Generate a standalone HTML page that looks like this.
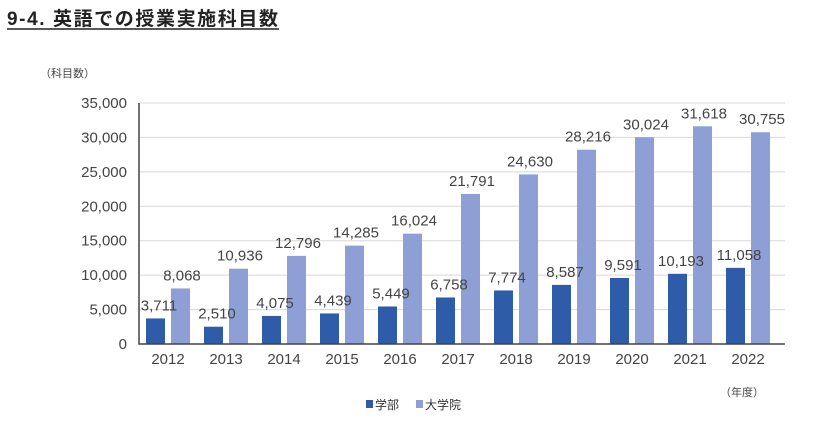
<!DOCTYPE html>
<html><head><meta charset="utf-8"><style>
body{margin:0;background:#fff;width:840px;height:427px;overflow:hidden;font-family:"Liberation Sans","Noto Sans CJK JP",sans-serif}
</style></head><body>
<svg id="c" width="840" height="427" xmlns="http://www.w3.org/2000/svg">
<text x="7" y="25" font-size="19" font-weight="bold" fill="#222" textLength="271" lengthAdjust="spacing" font-family="Liberation Sans, Noto Sans CJK JP, sans-serif">9-4.  英語での授業実施科目数</text>
<line x1="7" y1="29" x2="279" y2="29" stroke="#222" stroke-width="1.5"/>
<text x="40" y="77" font-size="11" fill="#444" font-family="Liberation Sans, Noto Sans CJK JP, sans-serif">（科目数）</text>
<text x="720" y="396" font-size="11" fill="#444" font-family="Liberation Sans, Noto Sans CJK JP, sans-serif">（年度）</text>
<g id="plot"></g>
<g>
<rect x="366" y="400" width="7" height="8" fill="#2f5ca8"/>
<text x="375" y="409" font-size="12" fill="#333" font-family="Liberation Sans, Noto Sans CJK JP, sans-serif">学部</text>
<rect x="416" y="400" width="7" height="8" fill="#8d9fd4"/>
<text x="425" y="409" font-size="12" fill="#333" font-family="Liberation Sans, Noto Sans CJK JP, sans-serif">大学院</text>
</g>
</svg>
<script>
const categories=["2012","2013","2014","2015","2016","2017","2018","2019","2020","2021","2022"];
const undergrad=[3711,2510,4075,4439,5449,6758,7774,8587,9591,10193,11058];
const graduate=[8068,10936,12796,14285,16024,21791,24630,28216,30024,31618,30755];
const yTicks=[0,5000,10000,15000,20000,25000,30000,35000];
const NS="http://www.w3.org/2000/svg";
const g=document.getElementById('plot');
const x0=139,x1=777,yb=344,yt=103,ymax=35000;
const cw=(x1-x0)/categories.length;
const y=v=>yb-(v/ymax)*(yb-yt);
function mk(t,a,p){const e=document.createElementNS(NS,t);for(const k in a)e.setAttribute(k,a[k]);(p||g).appendChild(e);return e;}
const fmt=v=>v.toLocaleString('en-US');
yTicks.forEach(v=>{
 if(v>0){const l=mk('line',{x1:x0,x2:x1+8,y1:y(v),y2:y(v),stroke:'#d8d8d8','stroke-width':1});
 
 }
 const t=mk('text',{x:x0-12,y:y(v)+5,'text-anchor':'end','font-size':15,fill:'#444'});
 t.textContent=fmt(v);
 
 
});
categories.forEach((c,i)=>{
 const cx=x0+cw*i;
 const b1=mk('rect',{x:cx+7,y:y(undergrad[i]),width:19,height:yb-y(undergrad[i]),fill:'#2f5ca8'});
 
 
 const b2=mk('rect',{x:cx+32,y:y(graduate[i]),width:19,height:yb-y(graduate[i]),fill:'#8d9fd4'});
 
 
 const l1=mk('text',{x:cx+20,y:y(undergrad[i])-8,'text-anchor':'middle','font-size':15,fill:'#444'});
 l1.textContent=fmt(undergrad[i]);
 
 
 const l2=mk('text',{x:cx+43,y:y(graduate[i])-8,'text-anchor':'middle','font-size':15,fill:'#444'});
 l2.textContent=fmt(graduate[i]);
 
 
 const xl=mk('text',{x:cx+cw/2,y:364,'text-anchor':'middle','font-size':15,fill:'#444'});
 xl.textContent=c;
 
 
});
const ax=mk('path',{d:`M${x0},${yt} V${yb} H${x1+8}`,fill:'none',stroke:'#444','stroke-width':1.5});


</script>
</body></html>
